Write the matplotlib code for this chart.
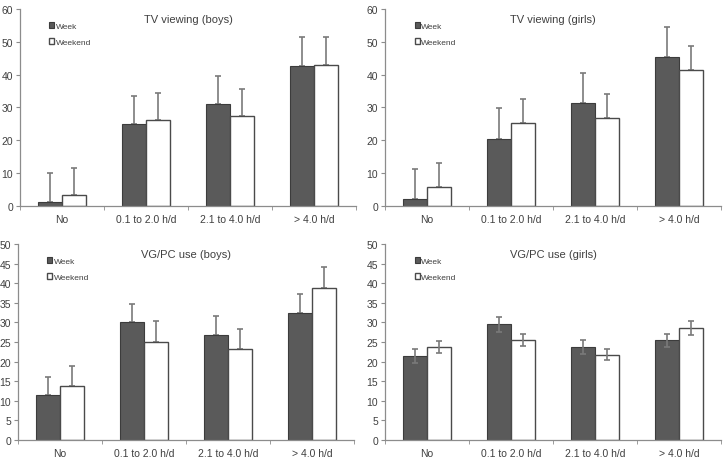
import numpy as np
import matplotlib
matplotlib.use("Agg")
import matplotlib.pyplot as plt

plt.rcParams['font.family'] = ['Liberation Sans', 'DejaVu Sans']

categorias = ["No", "0.1 to 2.0 h/d", "2.1 to 4.0 h/d", "> 4.0 h/d"]

# TV viewing (boys)
tv_boys_week = [1.2, 24.9, 31.0, 42.6]
tv_boys_weekend = [3.4, 26.1, 27.3, 43.0]
tv_boys_week_err = [8.8, 8.7, 8.7, 8.8]
tv_boys_weekend_err = [8.1, 8.3, 8.2, 8.4]

# TV viewing (girls)
tv_girls_week = [2.2, 20.5, 31.4, 45.4]
tv_girls_weekend = [5.9, 25.3, 26.9, 41.5]
tv_girls_week_err = [9.2, 9.2, 9.2, 9.1]
tv_girls_weekend_err = [7.3, 7.4, 7.3, 7.3]

# VG/PC use (boys)
vg_boys_week = [11.4, 30.0, 26.9, 32.3]
vg_boys_weekend = [13.7, 24.9, 23.1, 38.9]
vg_boys_week_err = [4.6, 4.7, 4.8, 4.9]
vg_boys_weekend_err = [5.3, 5.4, 5.1, 5.2]

# VG/PC use (girls)
vg_girls_week = [21.4, 29.5, 23.7, 25.4]
vg_girls_weekend = [23.8, 25.6, 21.8, 28.6]
vg_girls_week_err = [1.7, 1.9, 1.8, 1.7]
vg_girls_weekend_err = [1.5, 1.5, 1.5, 1.7]

cinza_barra = '#5a5a5a'
cinza_eixo = '#8c8c8c'
cinza_texto = '#404040'
cinza_erro = '#7a7a7a'


def painel(ax, titulo, week, weekend, err_w, err_we, ymax, ystep, dois_lados=False):
    x = np.arange(len(categorias))
    larg = 0.286
    zo_erro = 3 if dois_lados else 1
    if dois_lados:
        ew = [err_w, err_w]
        ewe = [err_we, err_we]
    else:
        ew = [np.zeros(4), err_w]
        ewe = [np.zeros(4), err_we]
    ax.errorbar(x - larg / 2, week, yerr=ew, fmt='none', ecolor=cinza_erro,
                elinewidth=1.2, capsize=2.5, capthick=1.2, zorder=zo_erro)
    ax.errorbar(x + larg / 2, weekend, yerr=ewe, fmt='none', ecolor=cinza_erro,
                elinewidth=1.2, capsize=2.5, capthick=1.2, zorder=zo_erro)
    b1 = ax.bar(x - larg / 2, week, larg, color=cinza_barra, edgecolor='#3c3c3c',
                linewidth=0.8, label='Week', zorder=2)
    b2 = ax.bar(x + larg / 2, weekend, larg, color='white', edgecolor='#4a4a4a',
                linewidth=1.0, label='Weekend', zorder=2)

    ax.set_xlim(-0.5, 3.5)
    ax.set_ylim(0, ymax)
    ax.set_yticks(np.arange(0, ymax + 1, ystep))
    ax.set_xticks(x)
    ax.set_xticklabels(categorias)
    ax.set_xticks(np.arange(-0.5, 4.0, 1.0), minor=True)
    ax.tick_params(axis='x', which='major', length=0, labelsize=7.5,
                   labelcolor=cinza_texto, pad=6)
    ax.tick_params(axis='x', which='minor', length=3, color=cinza_eixo, direction='out')
    ax.tick_params(axis='y', length=3, color=cinza_eixo, labelsize=7.5,
                   labelcolor=cinza_texto, pad=2)
    for lado in ['top', 'right']:
        ax.spines[lado].set_visible(False)
    for lado in ['left', 'bottom']:
        ax.spines[lado].set_color(cinza_eixo)
        ax.spines[lado].set_linewidth(0.9)

    ax.text(0.5, 0.95, titulo, transform=ax.transAxes, ha='center', va='center',
            fontsize=8, color=cinza_texto)
    ax.legend(handles=[b1, b2], loc='upper left', bbox_to_anchor=(0.065, 0.97),
              frameon=False, fontsize=6, handlelength=0.6, handleheight=0.6,
              handletextpad=0.2, labelspacing=1.0, labelcolor=cinza_texto)


fig = plt.figure(figsize=(7.24, 4.64), dpi=100)
ax1 = fig.add_axes([0.0276, 0.5539, 0.464, 0.4246])
ax2 = fig.add_axes([0.532, 0.5539, 0.464, 0.4246])
ax3 = fig.add_axes([0.0249, 0.0496, 0.464, 0.4224])
ax4 = fig.add_axes([0.532, 0.0496, 0.464, 0.4224])

painel(ax1, 'TV viewing (boys)', tv_boys_week, tv_boys_weekend,
       tv_boys_week_err, tv_boys_weekend_err, 60, 10)
painel(ax2, 'TV viewing (girls)', tv_girls_week, tv_girls_weekend,
       tv_girls_week_err, tv_girls_weekend_err, 60, 10)
painel(ax3, 'VG/PC use (boys)', vg_boys_week, vg_boys_weekend,
       vg_boys_week_err, vg_boys_weekend_err, 50, 5)
painel(ax4, 'VG/PC use (girls)', vg_girls_week, vg_girls_weekend,
       vg_girls_week_err, vg_girls_weekend_err, 50, 5, dois_lados=True)

fig.savefig('out.png', dpi=100)
